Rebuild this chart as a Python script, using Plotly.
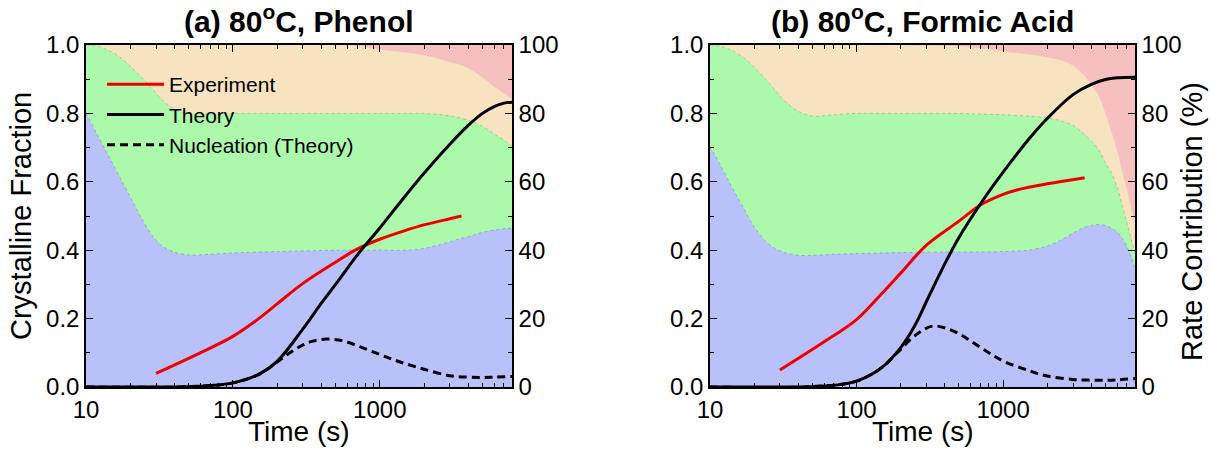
import plotly.graph_objects as go

# ---------------- data ----------------
t_area = [10, 12, 14, 17, 20, 24, 28, 33, 40, 50, 70, 100, 200, 500, 700, 1000,
          1500, 2000, 2500, 3000, 3500, 4000, 4500, 5000, 5500, 6000, 6500, 7000, 7500, 8000]

# panel (a) cumulative rate-contribution boundaries (%)
blue_a = [80, 73.6, 68.2, 61.3, 55.6, 49.2, 44.5, 41.2, 39.4, 38.6, 38.8, 39.2, 39.6, 40, 40, 40,
          40, 40.5, 41.5, 42.5, 43.3, 44, 44.7, 45.2, 45.6, 45.9, 46.1, 46.3, 46.4, 46.4]
green_a = [100, 99.6, 98.6, 96.5, 93.8, 90.5, 87.3, 84, 81.2, 80, 79.8, 80, 80, 80, 80, 80,
           80, 80, 79.7, 79.3, 78.7, 78, 77.2, 76.2, 75.1, 74, 73.1, 72.2, 71.2, 70.3]
tan_a = [100, 100, 100, 100, 100, 100, 100, 100, 100, 100, 100, 100, 100, 100, 99.8, 98.7,
         97.8, 97, 96, 95, 94.2, 93.2, 91.9, 90.5, 89.2, 87.8, 86.8, 85.8, 84.9, 84]

# panel (b)
blue_b = [70.4, 64.2, 58.7, 52.2, 46.8, 42.7, 40.4, 39.2, 38.5, 38.5, 38.8, 39, 39.3, 39.5, 39.5, 39.6,
          40, 41.2, 43, 45, 46.5, 47.3, 47.5, 47.2, 46.5, 45.3, 43.5, 41, 38, 34]
green_b = [100, 99.5, 98.5, 96.3, 93.5, 90, 86.7, 83.3, 80.6, 79.2, 79.6, 80, 80, 80, 79.8, 79.6,
           79.2, 78.7, 77.8, 76.5, 74.3, 72, 69.3, 65.5, 62.5, 58.5, 53, 48, 43, 39]
tan_b = [100, 100, 100, 100, 100, 100, 100, 100, 100, 100, 100, 100, 100, 99.6, 99, 98.2,
         97.2, 96.4, 95.5, 94, 91.5, 88.5, 85, 80, 74.5, 69, 63, 57.5, 52, 47.5]

# lines (crystalline fraction)
t_exp_a = [30, 60, 100, 150, 200, 300, 500, 700, 1000, 1500, 2000, 3000, 3600]
exp_a = [0.04, 0.10, 0.148, 0.20, 0.243, 0.303, 0.365, 0.403, 0.432, 0.458, 0.474, 0.492, 0.50]

t_th_a = [10, 30, 50, 70, 100, 150, 200, 300, 400, 500, 700, 1000, 1500, 2000, 3000,
          4000, 5000, 6000, 7000, 8000]
th_a = [0, 0, 0.001, 0.004, 0.012, 0.037, 0.075, 0.17, 0.245, 0.30, 0.385, 0.465, 0.56,
        0.625, 0.71, 0.765, 0.80, 0.82, 0.83, 0.833]

t_nuc_a = [10, 50, 100, 150, 200, 250, 300, 350, 430, 550, 730, 1000, 1235, 1500, 2000, 3000,
           4000, 5000, 6000, 8000]
nuc_a = [0, 0.001, 0.012, 0.037, 0.073, 0.103, 0.123, 0.134, 0.14, 0.136, 0.118, 0.095, 0.08,
         0.068, 0.052, 0.033, 0.029, 0.028, 0.029, 0.031]

t_exp_b = [30, 58, 100, 150, 200, 300, 500, 700, 1000, 1240, 2000, 3600]
exp_b = [0.05, 0.128, 0.197, 0.275, 0.333, 0.415, 0.485, 0.532, 0.563, 0.576, 0.594, 0.612]

t_th_b = [10, 30, 50, 70, 100, 150, 200, 250, 300, 400, 500, 700, 1000, 1500, 2000, 3000,
          4000, 5000, 6000, 8000]
th_b = [0, 0, 0.001, 0.005, 0.017, 0.058, 0.115, 0.18, 0.25, 0.36, 0.437, 0.535, 0.628, 0.725,
        0.785, 0.855, 0.885, 0.899, 0.904, 0.906]

t_nuc_b = [10, 50, 100, 150, 175, 200, 250, 330, 450, 600, 800, 1000, 1500, 2000, 3000, 4000,
           5000, 6000, 8000]
nuc_b = [0, 0.001, 0.017, 0.058, 0.085, 0.11, 0.15, 0.178, 0.165, 0.135, 0.10, 0.076, 0.048,
         0.032, 0.022, 0.02, 0.02, 0.021, 0.025]

x_ticks = [10, 100, 1000]
x_minor = [20, 30, 40, 50, 60, 70, 80, 90, 200, 300, 400, 500, 600, 700, 800, 900,
           2000, 3000, 4000, 5000, 6000, 7000, 8000]

titles = ["<b>(a) 80<sup>o</sup>C, Phenol</b>", "<b>(b) 80<sup>o</sup>C, Formic Acid</b>"]

# ---------------- style ----------------
FONT = "Liberation Sans, Arial, sans-serif"
C_BLUE = "rgb(185,193,250)"
C_GREEN = "rgb(172,249,172)"
C_TAN = "rgb(247,227,191)"
C_PINK = "rgb(247,192,192)"
EDGE = ["rgba(70,120,220,0.6)", "rgba(40,190,40,0.5)", "rgba(0,0,0,0)"]

W, H = 1211, 450
PX = [(86, 512), (710, 1135)]
PY = (45, 387)

fig = go.Figure()

panels = [
    (blue_a, green_a, tan_a, t_exp_a, exp_a, t_th_a, th_a, t_nuc_a, nuc_a),
    (blue_b, green_b, tan_b, t_exp_b, exp_b, t_th_b, th_b, t_nuc_b, nuc_b),
]

for i, (bl, gr, tn, te, ye, tt, yt, tnu, ynu) in enumerate(panels):
    xa = "x" if i == 0 else "x2"
    ya_area = "y" if i == 0 else "y3"
    ya_line = "y2" if i == 0 else "y4"
    for k, (vals, col) in enumerate([(bl, C_BLUE), (gr, C_GREEN), (tn, C_TAN)]):
        fig.add_trace(go.Scatter(
            x=t_area, y=vals, xaxis=xa, yaxis=ya_area, mode="lines",
            line=dict(width=0.8, shape="spline", smoothing=0.8, color=EDGE[k], dash="dot"),
            fill="tozeroy" if k == 0 else "tonexty", fillcolor=col,
            showlegend=False, hoverinfo="skip"))
    fig.add_trace(go.Scatter(
        x=te, y=ye, xaxis=xa, yaxis=ya_line, mode="lines", name="Experiment",
        line=dict(color="rgb(238,0,0)", width=3, shape="spline"), showlegend=(i == 0)))
    fig.add_trace(go.Scatter(
        x=tt, y=yt, xaxis=xa, yaxis=ya_line, mode="lines", name="Theory",
        line=dict(color="black", width=3, shape="spline"), showlegend=(i == 0)))
    fig.add_trace(go.Scatter(
        x=tnu, y=ynu, xaxis=xa, yaxis=ya_line, mode="lines", name="Nucleation (Theory)",
        line=dict(color="black", width=3, shape="spline", dash="8px,5px"), showlegend=(i == 0)))

ydom = [1 - PY[1] / H, 1 - PY[0] / H]
tickfont = dict(family=FONT, size=24, color="black")

common_x = dict(type="log", range=[1, 3.9], tickvals=x_ticks, ticktext=["10", "100", "1000"],
                ticks="inside", ticklen=7, tickwidth=1.3, tickcolor="black", automargin=False,
                showline=True, linecolor="black", linewidth=1.5, mirror="ticks",
                showgrid=False, zeroline=False, tickfont=tickfont,
                minor=dict(tickvals=x_minor, ticks="inside", ticklen=4, tickwidth=1, tickcolor="black",
                           showgrid=False))
common_yr = dict(range=[0, 100], tickvals=[0, 20, 40, 60, 80, 100], side="right",
                 ticks="inside", ticklen=7, tickwidth=1.3, tickcolor="black", automargin=False,
                 showline=True, linecolor="black", linewidth=1.5,
                 showgrid=False, zeroline=False, tickfont=tickfont, domain=ydom,
                 minor=dict(tickvals=[10, 30, 50, 70, 90], ticks="inside", ticklen=4, tickwidth=1,
                            tickcolor="black", showgrid=False))
common_yl = dict(range=[0, 1], tickvals=[0, 0.2, 0.4, 0.6, 0.8, 1.0],
                 ticktext=["0.0", "0.2", "0.4", "0.6", "0.8", "1.0"], side="left",
                 ticks="inside", ticklen=7, tickwidth=1.3, tickcolor="black", automargin=False,
                 showline=True, linecolor="black", linewidth=1.5,
                 showgrid=False, zeroline=False, tickfont=tickfont,
                 minor=dict(tickvals=[0.1, 0.3, 0.5, 0.7, 0.9], ticks="inside", ticklen=4, tickwidth=1,
                            tickcolor="black", showgrid=False))

fig.update_layout(
    width=W, height=H,
    margin=dict(l=0, r=0, t=0, b=0, autoexpand=False),
    paper_bgcolor="white", plot_bgcolor=C_PINK,
    font=dict(family=FONT, color="black"),
    xaxis=dict(domain=[PX[0][0] / W, PX[0][1] / W], anchor="y", **common_x),
    xaxis2=dict(domain=[PX[1][0] / W, PX[1][1] / W], anchor="y3", **common_x),
    yaxis=dict(anchor="x", **common_yr),
    yaxis2=dict(anchor="x", overlaying="y", **common_yl),
    yaxis3=dict(anchor="x2", **common_yr),
    yaxis4=dict(anchor="x2", overlaying="y3", **common_yl),
    legend=dict(x=102 / W, y=1 - 64 / H, xanchor="left", yanchor="top", traceorder="normal",
                bgcolor="rgba(0,0,0,0)", borderwidth=0, itemwidth=57,
                font=dict(family=FONT, size=21, color="black"), tracegroupgap=0),
)

ann = []
for i in range(2):
    cx = (PX[i][0] + PX[i][1]) / 2 / W
    ann.append(dict(text=titles[i], x=cx, y=1 - 19 / H, xref="paper", yref="paper",
                    showarrow=False, font=dict(family=FONT, size=30, color="black"),
                    xanchor="center", yanchor="middle"))
    ann.append(dict(text="Time (s)", x=cx, y=1 - 431 / H, xref="paper", yref="paper",
                    showarrow=False, font=dict(family=FONT, size=28, color="black"),
                    xanchor="center", yanchor="middle"))
ann.append(dict(text="Crystalline Fraction", x=21 / W, y=1 - 216 / H, xref="paper", yref="paper",
                showarrow=False, textangle=-90, font=dict(family=FONT, size=29, color="black"),
                xanchor="center", yanchor="middle"))
ann.append(dict(text="Rate Contribution (%)", x=1192 / W, y=1 - 222 / H, xref="paper", yref="paper",
                showarrow=False, textangle=-90, font=dict(family=FONT, size=29, color="black"),
                xanchor="center", yanchor="middle"))
fig.update_layout(annotations=ann)

fig.write_html("out.html")
